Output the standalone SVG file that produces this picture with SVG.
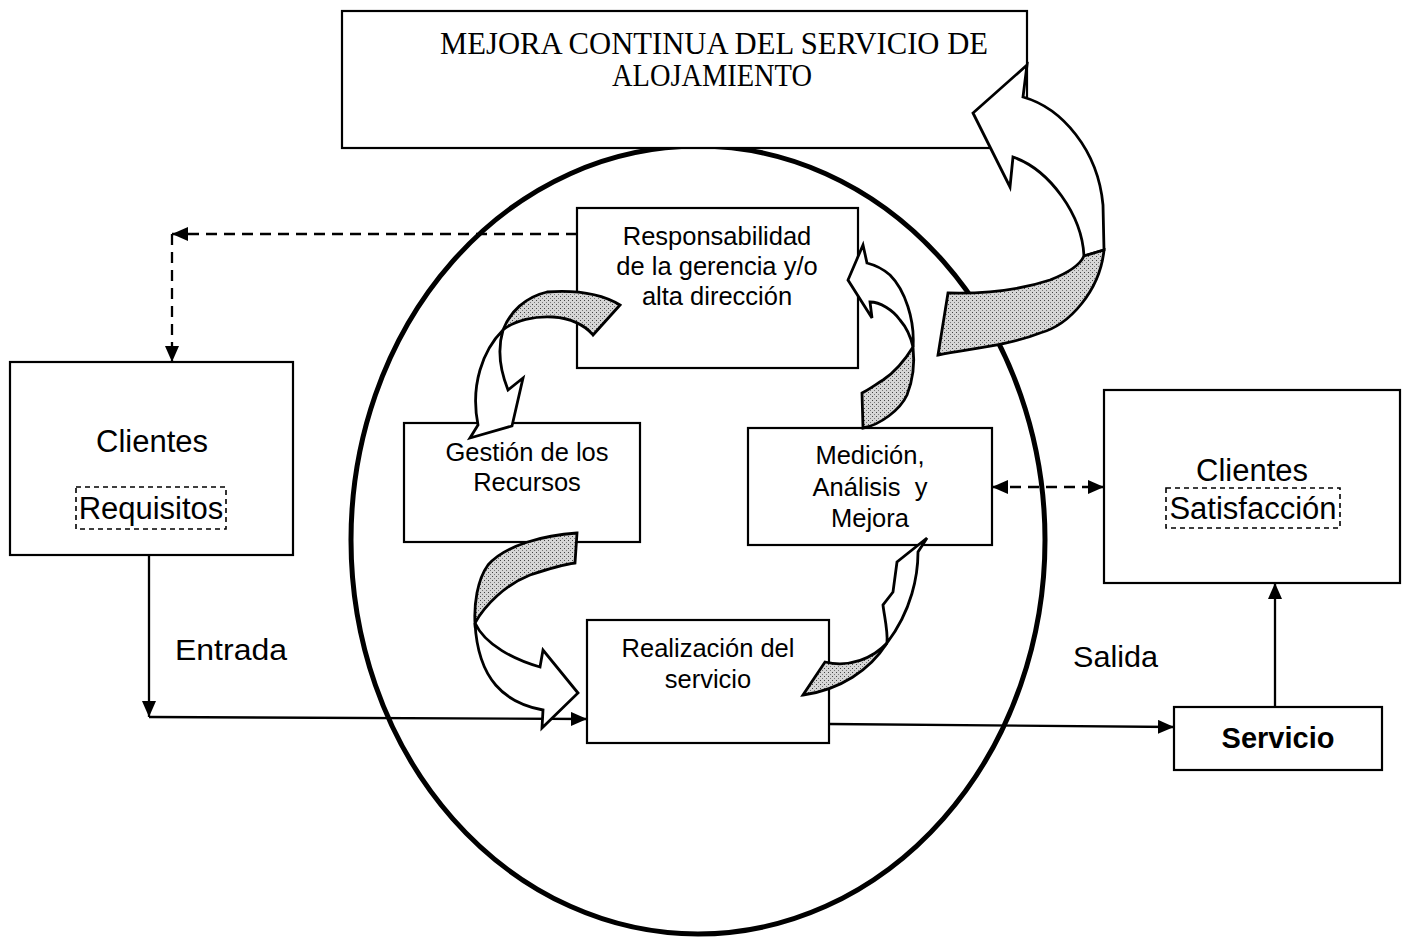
<svg xmlns="http://www.w3.org/2000/svg" width="1410" height="938" viewBox="0 0 1410 938">
<style>
.box{fill:#fff;stroke:#000;stroke-width:2.2}
.t{font-family:"Liberation Sans",Arial,sans-serif;fill:#000;text-anchor:middle}
.in{font-size:25.5px}
.out{font-size:31px}
.conn{fill:none;stroke:#000;stroke-width:2.3}
.dash{stroke-dasharray:11 7}
.rib{fill:#fff;stroke:#000;stroke-width:2.8;stroke-linejoin:miter}
.sh{fill:url(#dots);stroke:#000;stroke-width:2.8;stroke-linejoin:miter}
</style>
<defs>
<pattern id="dots" width="4" height="4" patternUnits="userSpaceOnUse">
<rect width="4" height="4" fill="#d6d6d6"/>
<rect x="0" y="0" width="1" height="1" fill="#444"/>
<rect x="2" y="2" width="1" height="1" fill="#777"/>
</pattern>
<marker id="ah" viewBox="0 0 16 14" refX="16" refY="7" markerWidth="16" markerHeight="14" markerUnits="userSpaceOnUse" orient="auto-start-reverse">
<path d="M0,0 L16,7 L0,14 Z" fill="#000"/>
</marker>
</defs>
<rect width="1410" height="938" fill="#fff"/>

<g id="ellipse">
<ellipse cx="698" cy="540" rx="347" ry="394" fill="none" stroke="#000" stroke-width="5"/>
</g>

<g id="connectors">
<path class="conn dash" d="M577,234 L172,234" marker-end="url(#ah)"/>
<path class="conn dash" d="M172,234 L172,362" marker-end="url(#ah)"/>
<path class="conn" d="M149,555 L149,717" marker-end="url(#ah)"/>
<path class="conn" d="M149,717 L587,719" marker-end="url(#ah)"/>
<path class="conn" d="M829,724 L1174,727" marker-end="url(#ah)"/>
<path class="conn" d="M1275,707 L1275,583" marker-end="url(#ah)"/>
<path class="conn dash" d="M992,487 L1104,487" marker-start="url(#ah)" marker-end="url(#ah)"/>
</g>

<g id="mejora">
<rect class="box" x="342" y="11" width="685" height="137"/>
<text x="714" y="54" font-family="'Liberation Serif',serif" font-size="31" text-anchor="middle" textLength="548" lengthAdjust="spacingAndGlyphs">MEJORA CONTINUA DEL SERVICIO DE</text>
<text x="712" y="86" font-family="'Liberation Serif',serif" font-size="31" text-anchor="middle" textLength="200" lengthAdjust="spacingAndGlyphs">ALOJAMIENTO</text>
</g>

<g id="responsabilidad">
<rect class="box" x="577" y="208" width="281" height="160"/>
<text class="t in" x="717" y="245">Responsabilidad</text>
<text class="t in" x="717" y="275">de la gerencia y/o</text>
<text class="t in" x="717" y="305">alta dirección</text>
</g>

<g id="gestion">
<rect class="box" x="404" y="423" width="236" height="119"/>
<text class="t in" x="527" y="461">Gestión de los</text>
<text class="t in" x="527" y="491">Recursos</text>
</g>

<g id="medicion">
<rect class="box" x="748" y="428" width="244" height="117"/>
<text class="t in" x="870" y="464">Medición,</text>
<text class="t in" x="870" y="496">Análisis&#160; y</text>
<text class="t in" x="870" y="527">Mejora</text>
</g>

<g id="realizacion">
<rect class="box" x="587" y="620" width="242" height="123"/>
<text class="t in" x="708" y="657">Realización del</text>
<text class="t in" x="708" y="688">servicio</text>
</g>

<g id="clientes-requisitos">
<rect class="box" x="10" y="362" width="283" height="193"/>
<text class="t out" x="152" y="452">Clientes</text>
<rect x="76" y="487" width="150" height="42" fill="none" stroke="#000" stroke-width="1.6" stroke-dasharray="5 4"/>
<text class="t out" x="151" y="519">Requisitos</text>
</g>

<g id="clientes-satisfaccion">
<rect class="box" x="1104" y="390" width="296" height="193"/>
<text class="t out" x="1252" y="481">Clientes</text>
<rect x="1166" y="488" width="174" height="40" fill="none" stroke="#000" stroke-width="1.6" stroke-dasharray="5 4"/>
<text class="t out" x="1253" y="519">Satisfacción</text>
</g>

<g id="servicio">
<rect class="box" x="1174" y="707" width="208" height="63"/>
<text class="t" x="1278" y="748" font-size="29" font-weight="bold">Servicio</text>
</g>

<g id="labels">
<text x="175" y="660" font-family="'Liberation Sans',sans-serif" font-size="29" textLength="112" lengthAdjust="spacingAndGlyphs">Entrada</text>
<text x="1073" y="667" font-family="'Liberation Sans',sans-serif" font-size="29" textLength="85" lengthAdjust="spacingAndGlyphs">Salida</text>
</g>

<g id="arrow-mejora">
<path class="rib" d="M1027,65 L1023,97 C1062,108 1098,150 1103,205 L1104,250 L1084,256 C1082,215 1050,170 1013,157 L1010,187 L973,113 Z"/>
<path class="sh" d="M1104,250 C1100,290 1070,325 1040,333 C1010,345 975,348 938,355 L948,293 C985,294 1020,290 1050,280 C1068,273 1080,265 1084,256 Z"/>
</g>

<g id="arrow-resp-gestion">
<path class="rib" d="M503,330 C483,350 470,385 478,425 L470,438 L512,426 L523,378 L508,390 C500,370 497,350 503,330 Z"/>
<path class="sh" d="M620,305 C600,293 575,290 547,292 C525,297 510,312 503,330 C515,320 535,316 553,317 C570,318 585,325 593,335 Z"/>
</g>

<g id="arrow-gestion-realizacion">
<path class="rib" d="M475,623 C485,645 515,660 540,667 L543,650 L578,693 L542,728 L543,710 C505,703 478,680 475,623 Z"/>
<path class="sh" d="M577,533 C545,535 505,545 488,565 C477,580 474,605 475,623 C485,605 505,585 530,575 C545,570 560,565 575,563 Z"/>
</g>

<g id="arrow-realizacion-medicion">
<path class="rib" d="M887,643 C888,630 884,615 883,605 L893,592 L897,562 L927,538 L918,552 C918,575 912,610 887,643 Z"/>
<path class="sh" d="M825,662 C850,668 873,658 887,643 C870,670 840,690 803,695 Z"/>
</g>

<g id="arrow-medicion-resp">
<path class="rib" d="M913,347 C915,320 905,290 890,275 C882,268 875,265 867,263 L863,245 L848,280 L872,318 L870,302 C880,302 893,310 900,320 C907,328 911,338 913,347 Z"/>
<path class="sh" d="M862,393 L863,428 C880,425 900,410 907,395 C913,380 915,365 913,347 C905,360 895,372 883,380 C875,385 868,390 862,393 Z"/>
</g>
</svg>
